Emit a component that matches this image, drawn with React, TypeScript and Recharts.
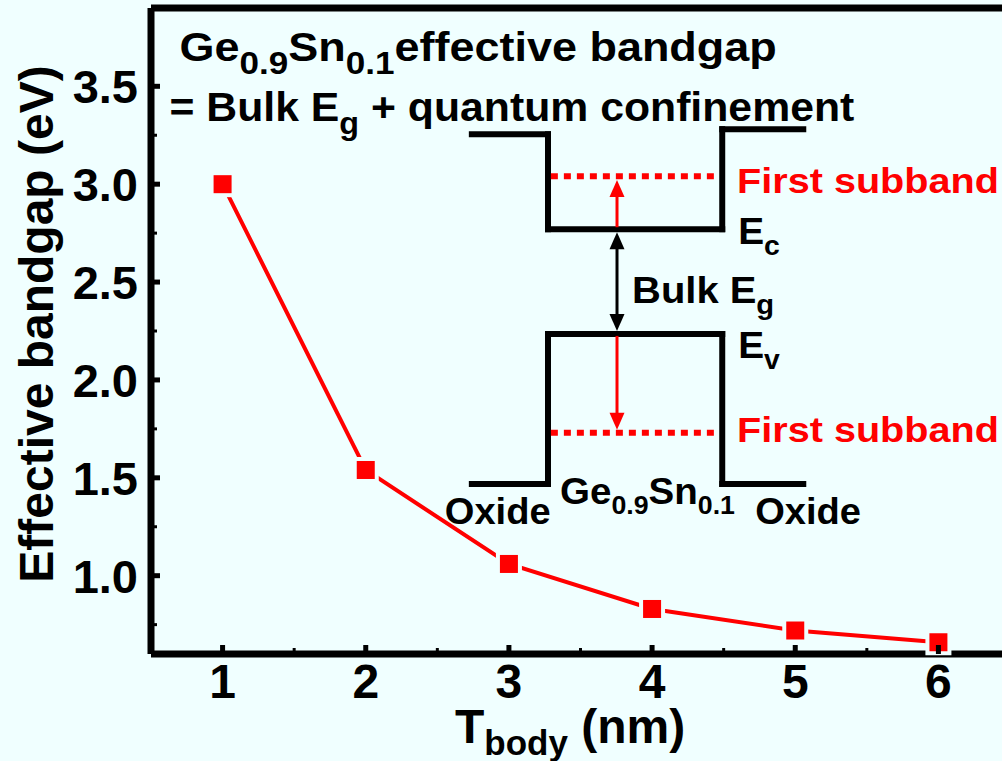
import React from 'react';
import { LineChart, Line, XAxis, YAxis, ReferenceLine, ReferenceDot } from 'recharts';

const BG = '#F0FFFF';
const RED = '#FF0000';
const FONT = '"Liberation Sans", Arial, Helvetica, sans-serif';

// data
const tBody = [1, 2, 3, 4, 5, 6];
const bandgap = [3.0, 1.54, 1.06, 0.83, 0.72, 0.66];
const xTicks = [1, 1.5, 2, 2.5, 3, 3.5, 4, 4.5, 5, 5.5, 6];
const yTicks = [0.75, 1.0, 1.25, 1.5, 1.75, 2.0, 2.25, 2.5, 2.75, 3.0, 3.25, 3.5];
const xDomain = [0.5, 6.5];
const yDomain = [0.6, 3.9];

// inset band diagram (in axis units)
const dxOxL = 2.741, dxWellL = 3.273, dxArrow = 3.755, dxWellR = 4.49, dxOxR = 5.056;
const dyCbTopL = 3.255, dyCbTopR = 3.281, dyEc = 2.77, dyEv = 2.235, dyVbBot = 1.469;
const dySubC = 3.041, dySubV = 1.73;

const data = tBody.map((t, i) => ({ t, v: bandgap[i] }));

const isMajor = (v: number, step: number) => Math.abs(v / step - Math.round(v / step)) < 1e-6;

const YTick = (props: any) => {
  const { x, y, payload } = props;
  const v = payload.value as number;
  const major = isMajor(v, 0.5);
  return (
    <g>
      <line x1={x} x2={x + (major ? 9 : 6)} y1={y} y2={y} stroke="#000" strokeWidth={major ? 5 : 3} />
      {major && (
        <text x={x - 13} y={y + 17} textAnchor="end" fontSize={47} fontWeight="bold" fontFamily={FONT} fill="#000">
          {v.toFixed(1)}
        </text>
      )}
    </g>
  );
};

const XTick = (props: any) => {
  const { x, y, payload } = props;
  const v = payload.value as number;
  const major = isMajor(v, 1);
  return (
    <g>
      <line x1={x} x2={x} y1={y} y2={y - (major ? 9 : 6)} stroke="#000" strokeWidth={major ? 5 : 3} />
      {major && (
        <text x={x} y={y + 44} textAnchor="middle" fontSize={48} fontWeight="bold" fontFamily={FONT} fill="#000">
          {String(v)}
        </text>
      )}
    </g>
  );
};

const SquareDot = (props: any) => {
  const { cx, cy, index } = props;
  if (cx == null || cy == null) return null;
  return (
    <g key={`d${index}`}>
      <rect x={cx - 13} y={cy - 13} width={26} height={26} fill={BG} />
      <rect x={cx - 9} y={cy - 9} width={18} height={18} fill={RED} />
    </g>
  );
};

const arrowShape = (color: string, width: number, both: boolean) => (p: any) => {
  const { x1, y1, x2, y2 } = p;
  const ang = Math.atan2(y2 - y1, x2 - x1);
  const L = 17, W = 7.5;
  const head = (tx: number, ty: number, a: number) => {
    const bx = tx - L * Math.cos(a), by = ty - L * Math.sin(a);
    const px = -Math.sin(a) * W, py = Math.cos(a) * W;
    return `${tx},${ty} ${bx + px},${by + py} ${bx - px},${by - py}`;
  };
  const sx = both ? x1 + (L - 2) * Math.cos(ang) : x1;
  const sy = both ? y1 + (L - 2) * Math.sin(ang) : y1;
  const ex = x2 - (L - 2) * Math.cos(ang), ey = y2 - (L - 2) * Math.sin(ang);
  return (
    <g>
      <line x1={sx} y1={sy} x2={ex} y2={ey} stroke={color} strokeWidth={width} />
      <polygon points={head(x2, y2, ang)} fill={color} />
      {both && <polygon points={head(x1, y1, ang + Math.PI)} fill={color} />}
    </g>
  );
};

type Part = { t: string; sub?: boolean };
const textShape = (parts: Part[], size: number, color: string, subSize: number, subDy: number, sx: number) => (p: any) => {
  const { cx, cy } = p;
  return (
    <g transform={`translate(${cx}, ${cy}) scale(${sx}, 1)`}>
      <text x={0} y={0} fontSize={size} fontWeight="bold" fontFamily={FONT} fill={color}>
        {parts.map((pt, i) => {
          const prevSub = i > 0 && parts[i - 1].sub;
          let dy = 0;
          if (pt.sub && !prevSub) dy = subDy;
          if (!pt.sub && prevSub) dy = -subDy;
          return (
            <tspan key={i} dy={dy} fontSize={pt.sub ? subSize : size}>
              {pt.t}
            </tspan>
          );
        })}
      </text>
    </g>
  );
};

const seg = (xa: number, ya: number, xb: number, yb: number, key: string, color = '#000', w = 6, dash?: string) => (
  <ReferenceLine
    key={key}
    segment={[{ x: xa, y: ya }, { x: xb, y: yb }]}
    stroke={color}
    strokeWidth={w}
    strokeDasharray={dash}
    strokeLinecap={dash ? 'butt' : 'square'}
    ifOverflow="visible"
  />
);

const txt = (
  x: number,
  y: number,
  parts: Part[],
  key: string,
  size = 36,
  color = '#000',
  subSize = 26,
  subDy = 11,
  sx = 1
) => (
  <ReferenceDot key={key} x={x} y={y} r={0} ifOverflow="visible" shape={textShape(parts, size, color, subSize, subDy, sx)} />
);

export default function App() {
  return (
    <div style={{ position: 'fixed', left: 0, top: 0, width: 1002, height: 761, overflow: 'hidden', background: BG }}>
      <LineChart width={1020} height={761} data={data} margin={{ top: 8, right: 10, bottom: 0, left: 0 }}>
        <XAxis
          dataKey="t"
          type="number"
          domain={xDomain}
          ticks={xTicks}
          interval={0}
          height={107}
          tickSize={0}
          tickMargin={0}
          tickLine={false}
          tick={<XTick />}
          axisLine={{ stroke: '#000', strokeWidth: 7 }}
          label={{
            content: (p: any) => {
              const vb = p.viewBox || { x: 151, y: 654 };
              return (
                <text x={vb.x + 304} y={vb.y + 89} fontSize={48} fontWeight="bold" fontFamily={FONT} fill="#000">
                  T
                  <tspan dy={12} fontSize={35}>body</tspan>
                  <tspan dy={-12} fontSize={48}> (nm)</tspan>
                </text>
              );
            },
          }}
        />
        <YAxis
          type="number"
          domain={yDomain}
          ticks={yTicks}
          interval={0}
          width={151}
          tickSize={0}
          tickMargin={0}
          tickLine={false}
          tick={<YTick />}
          axisLine={{ stroke: '#000', strokeWidth: 7 }}
          label={{
            content: (p: any) => {
              const vb = p.viewBox || { x: 0, y: 8, height: 646 };
              const cx = vb.x + 53;
              const cy = vb.y + vb.height / 2 - 7;
              return (
                <text
                  x={cx}
                  y={cy}
                  transform={`rotate(-90, ${cx}, ${cy})`}
                  textAnchor="middle"
                  fontSize={48}
                  fontWeight="bold"
                  fontFamily={FONT}
                  fill="#000"
                >
                  Effective bandgap (eV)
                </text>
              );
            },
          }}
        />
        <ReferenceLine y={yDomain[1]} stroke="#000" strokeWidth={7} ifOverflow="visible" />

        {/* conduction band well */}
        {seg(dxOxL, dyCbTopL, dxWellL, dyCbTopL, 'c1')}
        {seg(dxWellL, dyCbTopL, dxWellL, dyEc, 'c2')}
        {seg(dxWellL, dyEc, dxWellR, dyEc, 'c3')}
        {seg(dxWellR, dyEc, dxWellR, dyCbTopR, 'c4')}
        {seg(dxWellR, dyCbTopR, dxOxR, dyCbTopR, 'c5')}
        {/* valence band */}
        {seg(dxOxL, dyVbBot, dxWellL, dyVbBot, 'v1')}
        {seg(dxWellL, dyVbBot, dxWellL, dyEv, 'v2')}
        {seg(dxWellL, dyEv, dxWellR, dyEv, 'v3')}
        {seg(dxWellR, dyEv, dxWellR, dyVbBot, 'v4')}
        {seg(dxWellR, dyVbBot, dxOxR, dyVbBot, 'v5')}
        {/* subbands */}
        {seg(dxWellL + 0.02, dySubC, dxWellR - 0.02, dySubC, 's1', RED, 6, '7 6')}
        {seg(dxWellL + 0.02, dySubV, dxWellR - 0.02, dySubV, 's2', RED, 6, '7 6')}
        {/* arrows */}
        <ReferenceLine
          segment={[{ x: dxArrow, y: dyEc + 0.01 }, { x: dxArrow, y: dySubC - 0.02 }]}
          ifOverflow="visible"
          shape={arrowShape(RED, 3, false)}
        />
        <ReferenceLine
          segment={[{ x: dxArrow, y: dyEc - 0.015 }, { x: dxArrow, y: dyEv + 0.015 }]}
          ifOverflow="visible"
          shape={arrowShape('#000', 3, true)}
        />
        <ReferenceLine
          segment={[{ x: dxArrow, y: dyEv - 0.01 }, { x: dxArrow, y: dySubV + 0.015 }]}
          ifOverflow="visible"
          shape={arrowShape(RED, 3, false)}
        />

        {/* texts */}
        {txt(0.699, 3.628, [{ t: 'Ge' }, { t: '0.9', sub: true }, { t: 'Sn' }, { t: '0.1', sub: true }, { t: 'effective bandgap' }], 't1', 41, '#000', 32, 13, 1.097)}
        {txt(0.629, 3.321, [{ t: '= Bulk E' }, { t: 'g', sub: true }, { t: ' + quantum confinement' }], 't2', 41, '#000', 31, 13, 1.043)}
        {txt(4.594, 2.954, [{ t: 'First subband' }], 't3', 36, RED, 26, 11, 1.1)}
        {txt(4.601, 2.694, [{ t: 'E' }, { t: 'c', sub: true }], 't4', 37, '#000', 27, 11, 1.05)}
        {txt(3.86, 2.393, [{ t: 'Bulk E' }, { t: 'g', sub: true }], 't5', 37, '#000', 27, 11, 1.08)}
        {txt(4.601, 2.112, [{ t: 'E' }, { t: 'v', sub: true }], 't6', 37, '#000', 27, 11, 1.05)}
        {txt(4.594, 1.684, [{ t: 'First subband' }], 't7', 36, RED, 26, 11, 1.1)}
        {txt(2.552, 1.265, [{ t: 'Oxide' }], 't8', 37, '#000', 26, 11, 1.03)}
        {txt(3.357, 1.367, [{ t: 'Ge' }, { t: '0.9', sub: true }, { t: 'Sn' }, { t: '0.1', sub: true }], 't9', 36, '#000', 25, 10, 1.07)}
        {txt(4.72, 1.265, [{ t: 'Oxide' }], 't10', 37, '#000', 26, 11, 1.03)}

        <Line
          dataKey="v"
          stroke={RED}
          strokeWidth={4}
          dot={<SquareDot />}
          activeDot={false}
          isAnimationActive={false}
        />
      </LineChart>
    </div>
  );
}
